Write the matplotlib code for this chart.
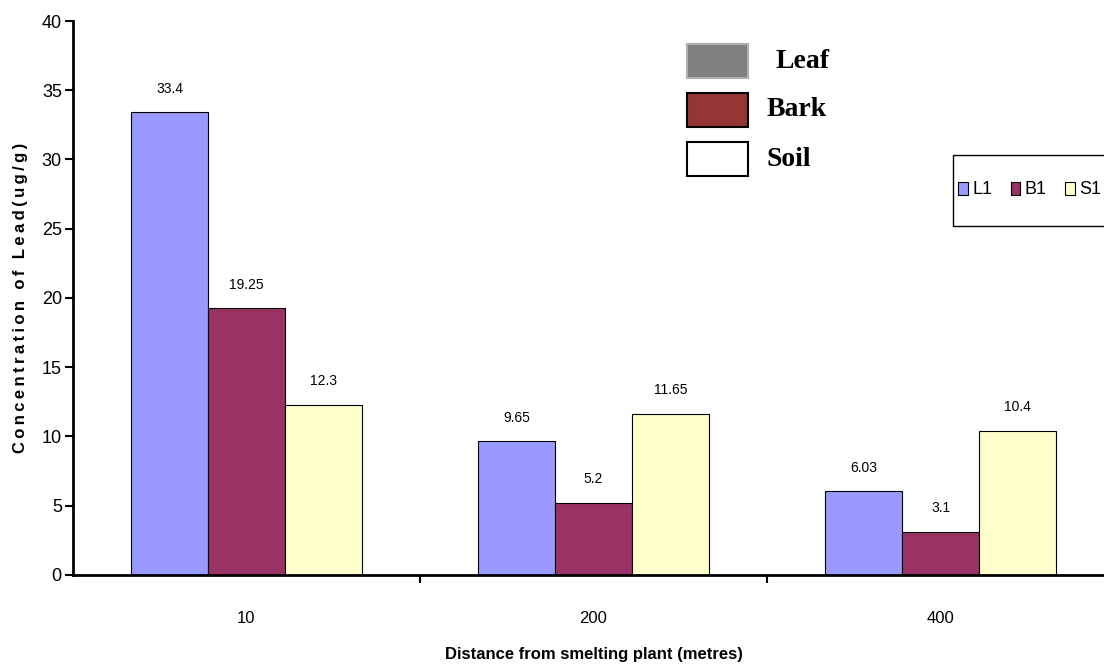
import numpy as np
import matplotlib.pyplot as plt
from matplotlib.patches import Patch, Rectangle

# lead concentration by distance from the smelter
distances = ['10', '200', '400']
leaf = [33.4, 9.65, 6.03]
bark = [19.25, 5.2, 3.1]
soil = [12.3, 11.65, 10.4]
labels = ['L1', 'B1', 'S1']
colors = ['#9999FF', '#993366', '#FFFFCC']

plt.rcParams['font.family'] = ['Liberation Sans', 'DejaVu Sans']

fig = plt.figure(figsize=(11.04, 6.71), dpi=100)
ax = fig.add_axes([0.0661, 0.1431, 0.943, 0.8256])

x = np.arange(len(distances))
w = 0.222
for i, (vals, c) in enumerate(zip([leaf, bark, soil], colors)):
    pos = x + (i - 1) * w
    ax.bar(pos, vals, width=w, color=c, edgecolor='black', linewidth=0.8)
    for px, v in zip(pos, vals):
        ax.text(px, v + 1.2, f'{v:g}', ha='center', va='bottom', fontsize=10)

ax.set_xlim(-0.5, 2.5)
ax.set_ylim(0, 40)
ax.set_yticks(range(0, 41, 5))
ax.set_xticks(x)
ax.set_xticklabels(distances)
ax.set_xticks([0.5, 1.5], minor=True)
ax.tick_params(axis='x', which='major', length=0, pad=26, labelsize=12)
ax.tick_params(axis='x', which='minor', length=6, width=1.5, direction='out')
ax.tick_params(axis='y', length=6, width=1.5, direction='out', labelsize=13, pad=2)

for s in ['top', 'right']:
    ax.spines[s].set_visible(False)
ax.spines['left'].set_linewidth(2)
ax.spines['bottom'].set_linewidth(2)

# spaced-out y label
ylab = '\u2009'.join('Concentration of Lead(ug/g)')
ax.set_ylabel(ylab, fontsize=12, fontweight='bold', labelpad=10)
ax.set_xlabel('Distance from smelting plant (metres)', fontsize=12, fontweight='bold', labelpad=15)

# series legend at the right
fig.add_artist(Rectangle((953 / 1104, 1 - 226 / 671), 0.2, 71 / 671, facecolor='white',
                         edgecolor='black', linewidth=1, transform=fig.transFigure))
handles = [Patch(facecolor=c, edgecolor='black', linewidth=0.8) for c in colors]
fig.legend(handles, labels, ncol=3, loc='center left',
           bbox_to_anchor=(958 / 1104, 1 - 190 / 671), frameon=False, fontsize=13,
           handlelength=0.55, handleheight=0.75, handletextpad=0.25, columnspacing=1.0,
           borderpad=0, borderaxespad=0)

# Leaf / Bark / Soil key
key = [('Leaf', '#808080', '#B0B0B0'), ('Bark', '#963634', 'black'), ('Soil', 'white', 'black')]
for j, (name, fc, ec) in enumerate(key):
    yb = 1 - (78 + j * 49) / 671
    fig.add_artist(Rectangle((687 / 1104, yb), 61 / 1104, 34 / 671, facecolor=fc,
                             edgecolor=ec, linewidth=1.5, transform=fig.transFigure))
    fig.text((775 if j == 0 else 767) / 1104, yb + 17 / 671, name, fontsize=20,
             fontweight='bold', family='Liberation Serif', va='center')

fig.savefig('out.png', dpi=100)
